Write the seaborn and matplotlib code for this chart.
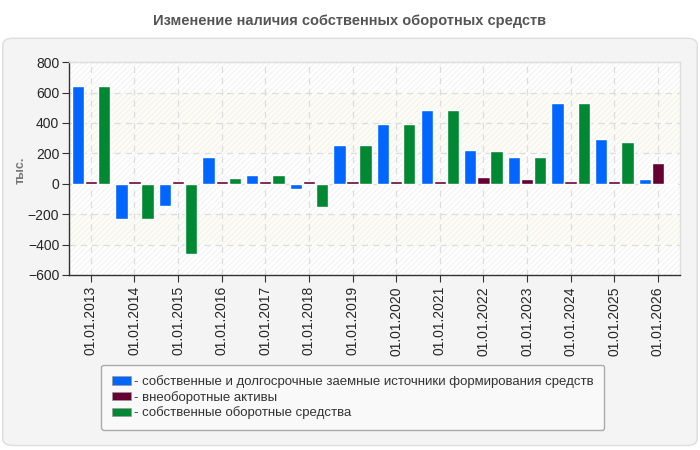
import numpy as np
import pandas as pd
import seaborn as sns
import matplotlib.pyplot as plt
from matplotlib.patches import Patch, Rectangle, FancyBboxPatch

dates = ["01.01.2013", "01.01.2014", "01.01.2015", "01.01.2016", "01.01.2017",
         "01.01.2018", "01.01.2019", "01.01.2020", "01.01.2021", "01.01.2022",
         "01.01.2023", "01.01.2024", "01.01.2025", "01.01.2026"]
sources = [640, -235, -145, 175, 55, -35, 255, 395, 485, 220, 175, 530, 295, 30]
noncurrent = [15, 15, 15, 15, 15, 15, 15, 15, 15, 45, 32, 20, 15, 135]
working = [640, -235, -465, 35, 55, -150, 255, 395, 485, 215, 175, 530, 275, -10]

series = ["собственные и долгосрочные заемные источники формирования средств",
          "внеоборотные активы",
          "собственные оборотные средства"]
colors = ["#0066ff", "#660033", "#008833"]

df = pd.DataFrame({
    "date": dates * 3,
    "value": sources + noncurrent + working,
    "series": [series[0]] * 14 + [series[1]] * 14 + [series[2]] * 14,
})

sns.set_style("white")
plt.rcParams["font.family"] = ["Liberation Sans", "DejaVu Sans"]
plt.rcParams["hatch.linewidth"] = 0.6

fig = plt.figure(figsize=(7, 4.5), dpi=100, facecolor="white")
panel = FancyBboxPatch((0.004, 0.01), 0.992, 0.905, boxstyle="round,pad=0,rounding_size=0.015",
                       transform=fig.transFigure, facecolor="#f4f4f4", edgecolor="#dddddd",
                       linewidth=1, zorder=-10)
fig.patches.append(panel)

ax = fig.add_axes([0.0986, 0.389, 0.8724, 0.473])
ax.set_facecolor("white")
# banded background first, hatching drawn over it
for lo, hi in [(200, 600), (-400, -200)]:
    ax.axhspan(lo, hi, color="#fdfdf6", zorder=0, linewidth=0)
ax.add_patch(Rectangle((0, 0), 1, 1, transform=ax.transAxes, facecolor="none",
                       edgecolor="#efefef", hatch="//////", linewidth=0, zorder=0.5))

sns.barplot(data=df, x="date", y="value", hue="series", palette=colors,
            width=0.9, gap=0.06, saturation=1, legend=False, ax=ax, zorder=3)

ax.set_ylim(-600, 800)
ax.set_yticks(range(-600, 801, 200))
ax.set_xlim(-0.5, 13.5)
ax.grid(True, linestyle=(0, (5, 4)), color="#dddddd", linewidth=0.9, zorder=1)
ax.set_axisbelow(True)
ax.tick_params(axis="x", rotation=90, labelsize=10, length=5, color="#333333", pad=3)
ax.tick_params(axis="y", labelsize=10, length=5, color="#333333", left=True, pad=2)
ax.tick_params(axis="x", bottom=True)
ax.set_xlabel("")
ax.set_ylabel("")
for s in ["left", "bottom"]:
    ax.spines[s].set_color("#333333")
    ax.spines[s].set_linewidth(1)
for s in ["top", "right"]:
    ax.spines[s].set_color("#dddddd")
    ax.spines[s].set_linewidth(1)

fig.text(0.029, 0.622, "тыс.", rotation=90, ha="center", va="center",
         fontsize=9, color="#777777", fontweight="bold")

fig.text(0.5, 0.953, "Изменение наличия собственных оборотных средств",
         ha="center", va="center", fontsize=10.5, fontweight="bold", color="#555555",
         family=["Liberation Sans Narrow", "Liberation Sans", "DejaVu Sans"])

handles = [Patch(facecolor=c, edgecolor="#999999", linewidth=0.5) for c in colors]
leg = fig.legend(handles, ["- " + s for s in series], loc="lower left",
                 bbox_to_anchor=(0.135, 0.03), frameon=True, fontsize=9.5,
                 handlelength=1.5, handleheight=0.6, handletextpad=0.2,
                 labelspacing=0.2, borderpad=0.8, fancybox=True)
leg.get_frame().set_facecolor("#f9f9f9")
leg.get_frame().set_edgecolor("#aaaaaa")
leg.get_frame().set_alpha(1)
for t in leg.get_texts():
    t.set_color("#333333")

fig.savefig("out.png", dpi=100, facecolor="white")
